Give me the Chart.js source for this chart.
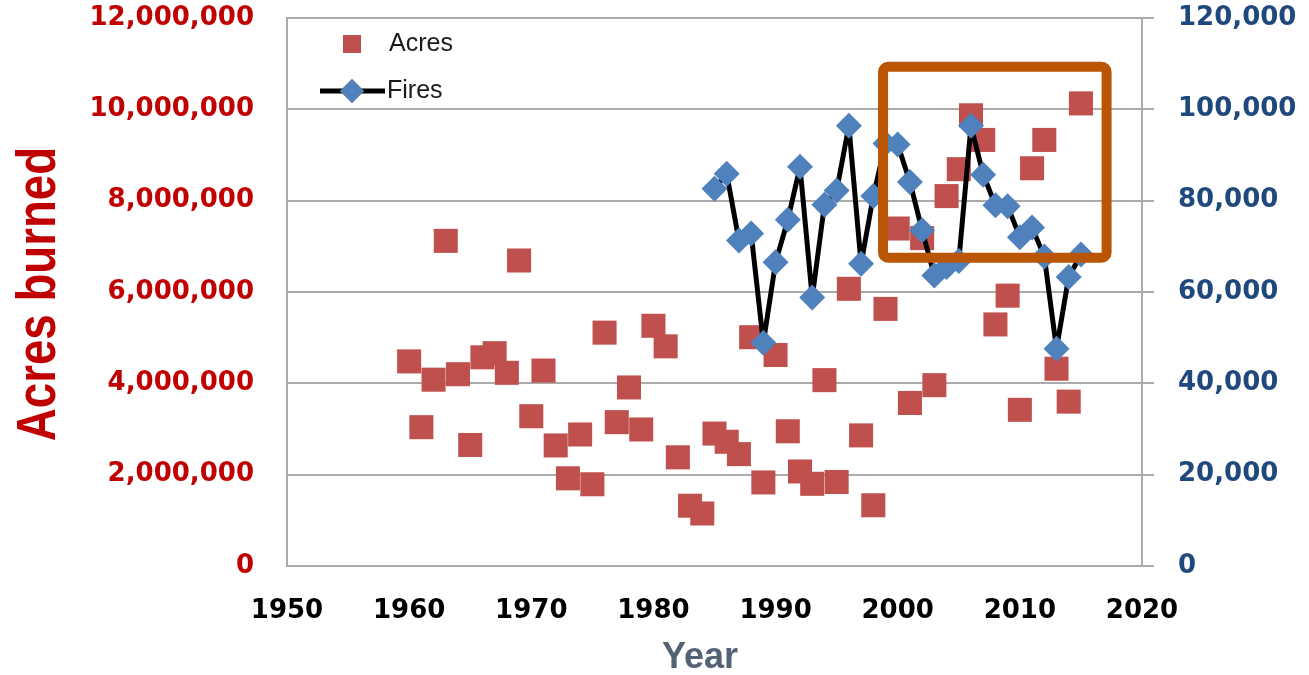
<!DOCTYPE html>
<html>
<head>
<meta charset="utf-8">
<title>Acres burned and number of fires</title>
<script src="https://cdn.jsdelivr.net/npm/chart.js@4.4.1/dist/chart.umd.min.js"></script>
<style>
  html, body { margin: 0; padding: 0; background: #fff; }
  #wrap { width: 1309px; height: 675px; position: relative; }
</style>
</head>
<body>
<div id="wrap"><canvas id="fireChart"></canvas></div>
<script>
// Acres burned per year
const acreYears = [1960, 1961, 1962, 1963, 1964, 1965, 1966, 1967, 1968, 1969,
    1970, 1971, 1972, 1973, 1974, 1975, 1976, 1977, 1978, 1979,
    1980, 1981, 1982, 1983, 1984, 1985, 1986, 1987, 1988, 1989,
    1990, 1991, 1992, 1993, 1994, 1995, 1996, 1997, 1998, 1999,
    2000, 2001, 2002, 2003, 2004, 2005, 2006, 2007, 2008, 2009,
    2010, 2011, 2012, 2013, 2014, 2015];
const acres = [4480000, 3040000, 4080000, 7120000, 4200000, 2650000, 4570000, 4660000, 4230000, 6690000,
    3280000, 4280000, 2640000, 1920000, 2880000, 1790000, 5110000, 3150000, 3910000, 2990000,
    5260000, 4810000, 2380000, 1320000, 1150000, 2900000, 2720000, 2450000, 5010000, 1830000,
    4620000, 2950000, 2070000, 1800000, 4070000, 1840000, 6070000, 2860000, 1330000, 5630000,
    7390000, 3570000, 7180000, 3960000, 8100000, 8690000, 9870000, 9330000, 5290000, 5920000,
    3420000, 8710000, 9330000, 4320000, 3600000, 10130000];

// Number of fires per year
const fireYears = [1985, 1986, 1987, 1988, 1989, 1990, 1991, 1992, 1993, 1994,
    1995, 1996, 1997, 1998, 1999, 2000, 2001, 2002, 2003, 2004,
    2005, 2006, 2007, 2008, 2009, 2010, 2011, 2012, 2013, 2014, 2015];
const fires = [82600, 85900, 71300, 72800, 48900, 66500, 75800, 87400, 58800, 79100,
    82200, 96400, 66200, 81000, 92500, 92300, 84100, 73500, 63600, 65500,
    66800, 96400, 85700, 79000, 78800, 72000, 74100, 67800, 47600, 63300, 68200];

const acrePoints = acreYears.map((yr, i) => ({ x: yr, y: acres[i] }));
const firePoints = fireYears.map((yr, i) => ({ x: yr, y: fires[i] }));

const RED = '#C0504D';
const BLUE = '#4F81BD';
const GRID = '#ABABAB';

// orange box around the recent years (in data units)
const highlightBox = {
    id: 'highlightBox',
    afterDatasetsDraw(chart) {
        const { ctx, scales } = chart;
        const x1 = scales.x.getPixelForValue(1998.8);
        const x2 = scales.x.getPixelForValue(2017.1);
        const y1 = scales.y.getPixelForValue(10930000);
        const y2 = scales.y.getPixelForValue(6750000);
        ctx.save();
        ctx.strokeStyle = '#B95503';
        ctx.lineWidth = 10;
        ctx.beginPath();
        ctx.roundRect(x1, y1, x2 - x1, y2 - y1, 5);
        ctx.stroke();
        ctx.restore();
    }
};

// legend sits inside the plot, top-left
const insideLegend = {
    id: 'insideLegend',
    afterDraw(chart) {
        const { ctx, chartArea } = chart;
        const cx = chartArea.left + 65;
        ctx.save();
        ctx.fillStyle = RED;
        ctx.fillRect(cx - 9, chartArea.top + 17, 18, 18);

        ctx.strokeStyle = '#000';
        ctx.lineWidth = 5;
        ctx.beginPath();
        ctx.moveTo(chartArea.left + 33, chartArea.top + 73);
        ctx.lineTo(chartArea.left + 98, chartArea.top + 73);
        ctx.stroke();
        Chart.helpers.drawPoint(ctx, { pointStyle: 'rectRot', radius: 12, borderWidth: 0 }, cx, chartArea.top + 73);
        ctx.fillStyle = BLUE;
        ctx.fill();

        ctx.fillStyle = '#1a1a1a';
        ctx.font = '25px "Liberation Sans", Arial, sans-serif';
        ctx.textBaseline = 'middle';
        ctx.fillText('Acres', chartArea.left + 102, chartArea.top + 26);
        ctx.fillText('Fires', chartArea.left + 100, chartArea.top + 73);
        ctx.restore();
    }
};

// axis titles: the left one is a condensed bold face, squeeze it a little
const axisTitles = {
    id: 'axisTitles',
    afterDraw(chart) {
        const { ctx, chartArea } = chart;
        ctx.save();
        ctx.translate(40, (chartArea.top + chartArea.bottom) / 2 + 2);
        ctx.rotate(-Math.PI / 2);
        ctx.scale(0.83, 1);
        ctx.fillStyle = '#C00000';
        ctx.font = 'bold 55px "Liberation Sans", Arial, sans-serif';
        ctx.textAlign = 'center';
        ctx.textBaseline = 'middle';
        ctx.fillText('Acres burned', 0, 0);
        ctx.restore();

        ctx.save();
        ctx.fillStyle = '#536375';
        ctx.font = 'bold 36px "Liberation Sans", Arial, sans-serif';
        ctx.textAlign = 'center';
        ctx.textBaseline = 'middle';
        ctx.fillText('Year', chartArea.left + 413, chartArea.bottom + 92);
        ctx.restore();
    }
};

const tickFont = { family: '"DejaVu Sans", Verdana, sans-serif', size: 26, weight: 'bold' };

// keep the big label padding from pushing the plot down
const trimPadding = (s) => { s.paddingTop = 16; s.paddingBottom = 16; };

new Chart(document.getElementById('fireChart'), {
    data: {
        datasets: [{
            type: 'line',
            label: 'Fires',
            data: firePoints,
            yAxisID: 'y2',
            borderColor: '#000',
            borderWidth: 5,
            borderJoinStyle: 'round',
            tension: 0,
            pointStyle: 'rectRot',
            pointRadius: 13,
            pointBackgroundColor: BLUE,
            pointBorderWidth: 0,
            order: 0
        }, {
            type: 'scatter',
            label: 'Acres',
            data: acrePoints,
            yAxisID: 'y',
            pointStyle: 'rect',
            pointRadius: 17,
            backgroundColor: RED,
            borderColor: RED,
            pointBorderWidth: 0,
            order: 1
        }]
    },
    options: {
        responsive: true,
        maintainAspectRatio: false,
        animation: false,
        layout: { padding: { left: 0, right: 0, top: 18, bottom: 0 } },
        plugins: {
            legend: { display: false },
            tooltip: { enabled: false }
        },
        scales: {
            x: {
                type: 'linear',
                min: 1950,
                max: 2020,
                afterFit: (s) => { s.height = 109; },
                grid: { display: false },
                border: { display: true, color: GRID, width: 2 },
                ticks: {
                    stepSize: 10,
                    color: '#000',
                    font: tickFont,
                    padding: 22,
                    callback: (v) => String(v)
                }
            },
            y: {
                position: 'left',
                min: 0,
                max: 12000000,
                afterFit: (s) => { s.width = 287; trimPadding(s); },
                grid: { color: GRID, lineWidth: 2, drawTicks: false },
                border: { display: true, color: GRID, width: 2 },
                ticks: {
                    stepSize: 2000000,
                    color: '#C00000',
                    font: tickFont,
                    padding: 33,
                    callback: (v) => v.toLocaleString('en-US')
                }
            },
            y2: {
                position: 'right',
                min: 0,
                max: 120000,
                afterFit: (s) => { s.width = 167; trimPadding(s); },
                grid: { drawOnChartArea: false, color: GRID, lineWidth: 2, tickLength: 12 },
                border: { display: true, color: GRID, width: 2 },
                ticks: {
                    stepSize: 20000,
                    color: '#1F497D',
                    font: tickFont,
                    padding: 24,
                    callback: (v) => v.toLocaleString('en-US')
                }
            }
        }
    },
    plugins: [highlightBox, insideLegend, axisTitles]
});
</script>
</body>
</html>
